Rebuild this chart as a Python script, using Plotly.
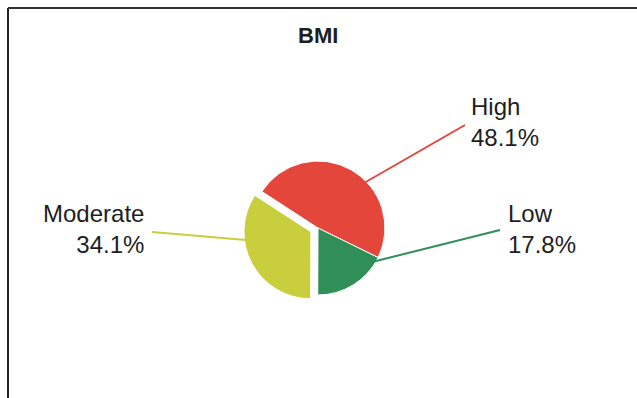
import plotly.graph_objects as go

labels = ["High", "Low", "Moderate"]
values = [48.1, 17.8, 34.1]
colors = ["#e4463b", "#2f8f57", "#c9cf3c"]
pulls = [0, 0, 0.12]

W, H = 637, 398

def px(x):
    return x / W

def py(y):
    return 1 - y / H

cx, cy, size = 318, 228, 150

fig = go.Figure()
fig.add_trace(go.Pie(
    labels=labels, values=values, sort=False, direction="clockwise",
    rotation=-57, pull=pulls, textinfo="none", hoverinfo="label+percent",
    marker=dict(colors=colors, line=dict(color="white", width=1)),
    domain=dict(x=[px(cx - size / 2), px(cx + size / 2)],
                y=[py(cy + size / 2), py(cy - size / 2)]),
    showlegend=False,
))

# label positions (pixels) and leader lines
label_pos = {
    "High": dict(x=469, y=122, anchor="left", line=((364, 183), (465, 125))),
    "Low": dict(x=506, y=229, anchor="left", line=((372, 262), (500, 230))),
    "Moderate": dict(x=146, y=229, anchor="right", line=((246, 240), (152, 232))),
}

FONT = "Liberation Sans, Arial, sans-serif"
annotations = []
shapes = []
for lab, val, col in zip(labels, values, colors):
    p = label_pos[lab]
    annotations.append(dict(
        x=px(p["x"]), y=py(p["y"]), xref="paper", yref="paper",
        xanchor=p["anchor"], yanchor="middle", align=p["anchor"],
        text=f"{lab}<br>{val:.1f}%", showarrow=False,
        font=dict(family=FONT, size=24, color="#1e1e1e"),
    ))
    (x0, y0), (x1, y1) = p["line"]
    shapes.append(dict(type="line", xref="paper", yref="paper",
                       x0=px(x0), y0=py(y0), x1=px(x1), y1=py(y1),
                       line=dict(color=col, width=2)))

# frame lines
shapes.append(dict(type="line", xref="paper", yref="paper",
                   x0=px(8), y0=py(8), x1=px(8), y1=0,
                   line=dict(color="#222222", width=2)))
shapes.append(dict(type="line", xref="paper", yref="paper",
                   x0=px(8), y0=py(8), x1=1, y1=py(8),
                   line=dict(color="#333333", width=2)))

annotations.append(dict(
    x=px(318), y=py(36), xref="paper", yref="paper", xanchor="center", yanchor="middle",
    text="<b>BMI</b>", showarrow=False,
    font=dict(family=FONT, size=22, color="#1e1e1e"),
))

fig.update_layout(
    width=W, height=H, margin=dict(l=0, r=0, t=0, b=0),
    paper_bgcolor="white", plot_bgcolor="white",
    annotations=annotations, shapes=shapes,
)

fig.write_html("out.html")
